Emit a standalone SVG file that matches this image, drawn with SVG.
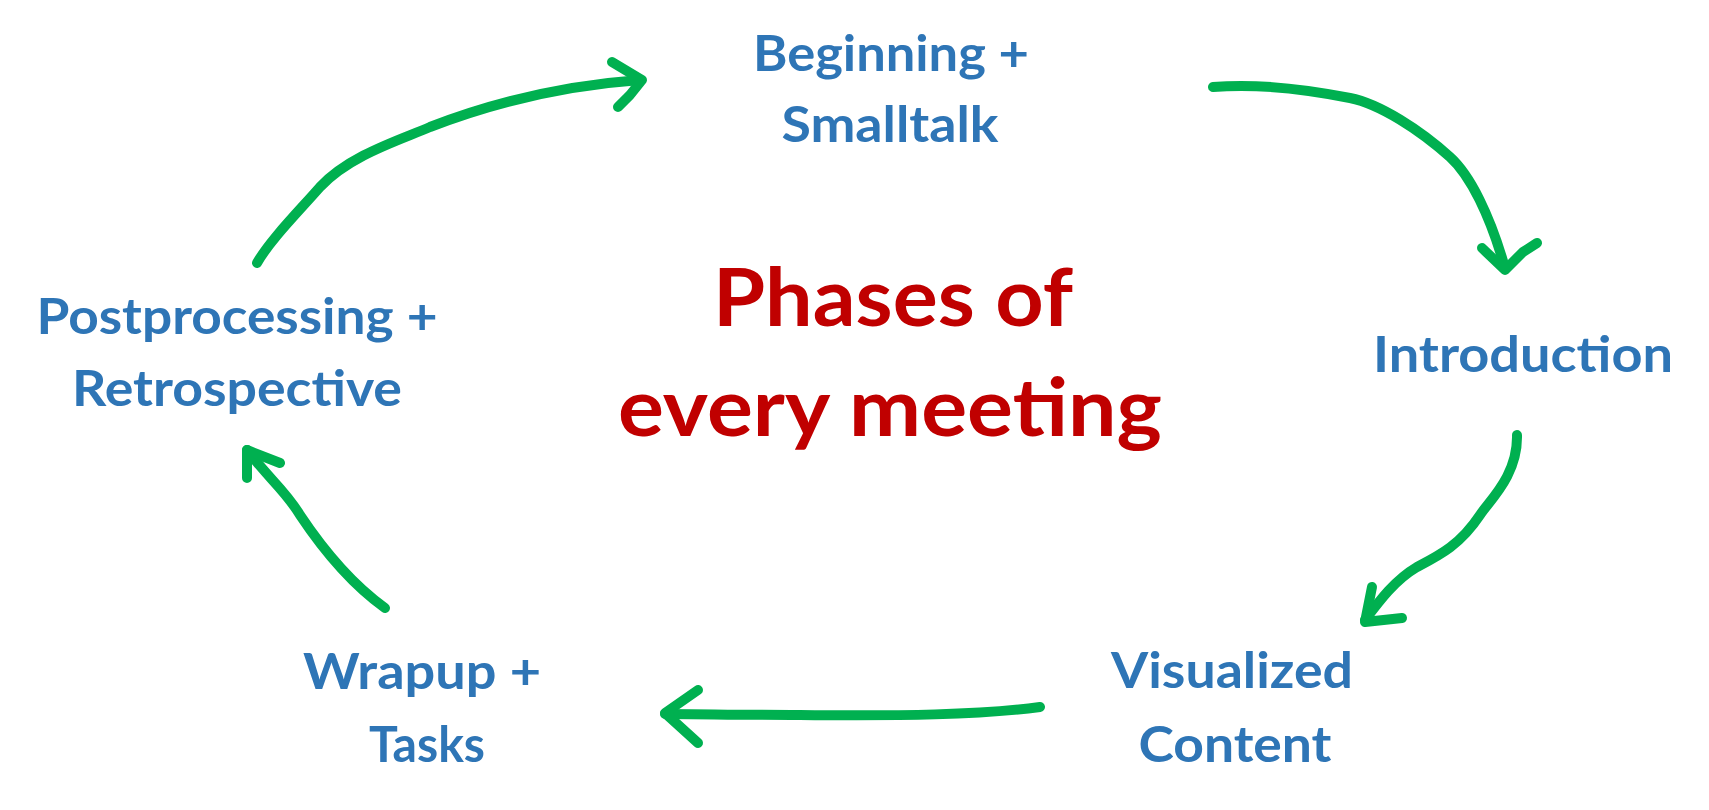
<svg xmlns="http://www.w3.org/2000/svg" width="1709" height="810" viewBox="0 0 1709 810">
<style>
.lbl{font-family:Lato,"Open Sans","Liberation Sans",sans-serif;font-weight:700;font-size:50px;fill:#2E75B6;text-anchor:middle}
.title{font-family:Lato,"Open Sans","Liberation Sans",sans-serif;font-weight:700;font-size:80px;fill:#C00000;text-anchor:middle}
.arr{fill:none;stroke:#00B050;stroke-width:10;stroke-linecap:round;stroke-linejoin:round}
</style>
<rect width="1709" height="810" fill="#FFFFFF"/>
<g id="connectors">
<path class="arr" d="M257,263 C270,240 300,210 320,187 C350,155 400,140 430,127 C500,100 570,85 640,80"/>
<path class="arr" d="M612,62 L642,80 L630,95 L618,107"/>
<path class="arr" d="M1213,87 C1250,84 1300,88 1350,98 C1380,104 1420,130 1450,157 C1470,175 1490,215 1505,268"/>
<path class="arr" d="M1482,248 L1505,270 L1523,252 L1537,243"/>
<path class="arr" d="M1517,435 C1518,475 1490,500 1480,515 C1460,545 1440,555 1417,567 C1395,580 1380,600 1365,620"/>
<path class="arr" d="M1372,587 L1365,622 L1402,618"/>
<path class="arr" d="M1040,707 C980,715 900,716 800,715 C740,715 700,714 665,714"/>
<path class="arr" d="M698,690 L665,713 L698,743"/>
<path class="arr" d="M385,608 C360,590 330,560 300,515 C285,490 270,480 247,450"/>
<path class="arr" d="M247,478 L247,450 L280,463"/>
</g>
<g id="title">
<text class="title" x="893" y="326" textLength="360" lengthAdjust="spacingAndGlyphs">Phases of</text>
<text class="title" x="890" y="436" textLength="544" lengthAdjust="spacingAndGlyphs">every meeting</text>
</g>
<g id="node-beginning">
<text class="lbl" x="891" y="71" textLength="276" lengthAdjust="spacingAndGlyphs">Beginning +</text>
<text class="lbl" x="890" y="142" textLength="217" lengthAdjust="spacingAndGlyphs">Smalltalk</text>
</g>
<g id="node-introduction">
<text class="lbl" x="1523" y="372" textLength="300" lengthAdjust="spacingAndGlyphs">Introduction</text>
</g>
<g id="node-visualized">
<text class="lbl" x="1232" y="688" textLength="242" lengthAdjust="spacingAndGlyphs">Visualized</text>
<text class="lbl" x="1235" y="762" textLength="193" lengthAdjust="spacingAndGlyphs">Content</text>
</g>
<g id="node-wrapup">
<text class="lbl" x="422" y="689" textLength="238" lengthAdjust="spacingAndGlyphs">Wrapup +</text>
<text class="lbl" x="427" y="762" textLength="116" lengthAdjust="spacingAndGlyphs">Tasks</text>
</g>
<g id="node-postprocessing">
<text class="lbl" x="237" y="334" textLength="401" lengthAdjust="spacingAndGlyphs">Postprocessing +</text>
<text class="lbl" x="237" y="406" textLength="330" lengthAdjust="spacingAndGlyphs">Retrospective</text>
</g>
</svg>
